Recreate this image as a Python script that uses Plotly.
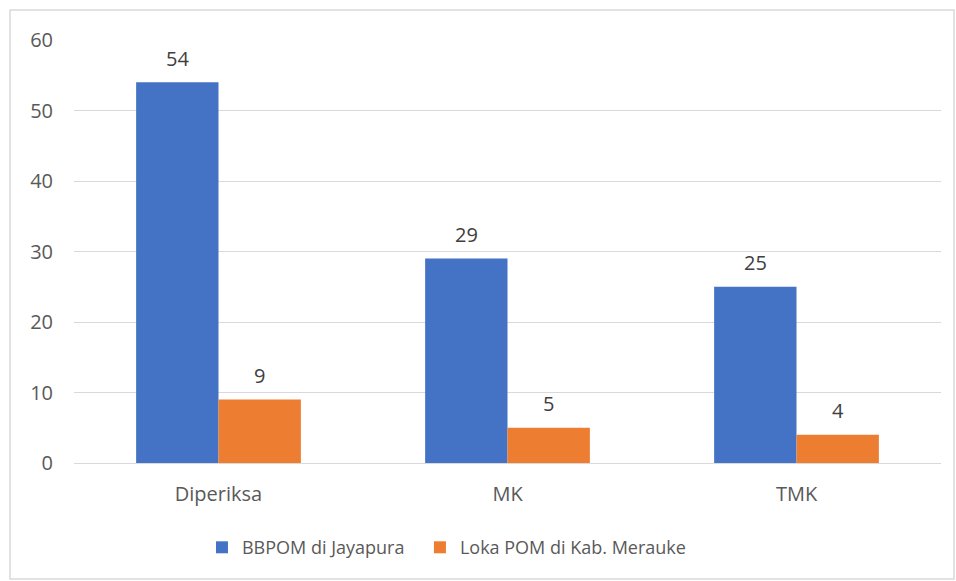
import plotly.graph_objects as go

categories = ["Diperiksa", "MK", "TMK"]
series_names = ["BBPOM di Jayapura", "Loka POM di Kab. Merauke"]
bbpom = [54, 29, 25]
loka = [9, 5, 4]
colors = ["#4472C4", "#ED7D31"]
y_ticks = [0, 10, 20, 30, 40, 50, 60]

FONT = "Open Sans, Noto Sans, sans-serif"

fig = go.Figure()
for name, vals, col, lg in zip(series_names, [bbpom, loka], colors, ["legend", "legend2"]):
    fig.add_trace(go.Bar(name=name, x=categories, y=vals, marker_color=col,
                         marker_line_width=0, legend=lg))

annotations = []
for vals, shift in zip([bbpom, loka], [-41, 41]):
    for c, v in zip(categories, vals):
        annotations.append(dict(x=c, y=v, text=str(v), showarrow=False,
                                xshift=shift, yshift=24,
                                font=dict(family=FONT, size=20, color="#404040")))

legend_style = dict(orientation="h", xanchor="left", y=-0.2, yanchor="middle",
                    font=dict(family=FONT, size=18, color="#595959"),
                    itemwidth=30, itemsizing="constant", bgcolor="rgba(0,0,0,0)")

fig.update_layout(
    width=956, height=581,
    margin=dict(l=74, r=15, t=40, b=118),
    paper_bgcolor="white", plot_bgcolor="white",
    barmode="group", bargap=0.43, bargroupgap=0,
    font=dict(family=FONT, size=17, color="#595959"),
    showlegend=True,
    legend=dict(x=0.1476, **legend_style),
    legend2=dict(x=0.399, **legend_style),
    annotations=annotations,
    shapes=[dict(type="rect", xref="paper", yref="paper",
                 x0=-64/867, x1=1 + 13/867, y0=-116/423, y1=1 + 30/423,
                 line=dict(color="#D9D9D9", width=1.5), fillcolor="rgba(0,0,0,0)",
                 layer="below")],
)
fig.update_xaxes(showgrid=False, showline=True, linecolor="#D9D9D9", linewidth=1,
                 ticks="", ticklabelstandoff=13,
                 tickfont=dict(family=FONT, size=20, color="#595959"))
fig.update_yaxes(range=[0, 60], tickvals=y_ticks, showgrid=True, gridcolor="#D9D9D9",
                 gridwidth=1, zeroline=False, showline=False, ticks="",
                 ticklabelstandoff=20,
                 tickfont=dict(family=FONT, size=20, color="#595959"))

fig.write_html("out.html", config={"displayModeBar": False})
with open("out.html", encoding="utf-8") as f:
    html = f.read()
html = html.replace("<body>", '<body style="margin:0">', 1)
with open("out.html", "w", encoding="utf-8") as f:
    f.write(html)
